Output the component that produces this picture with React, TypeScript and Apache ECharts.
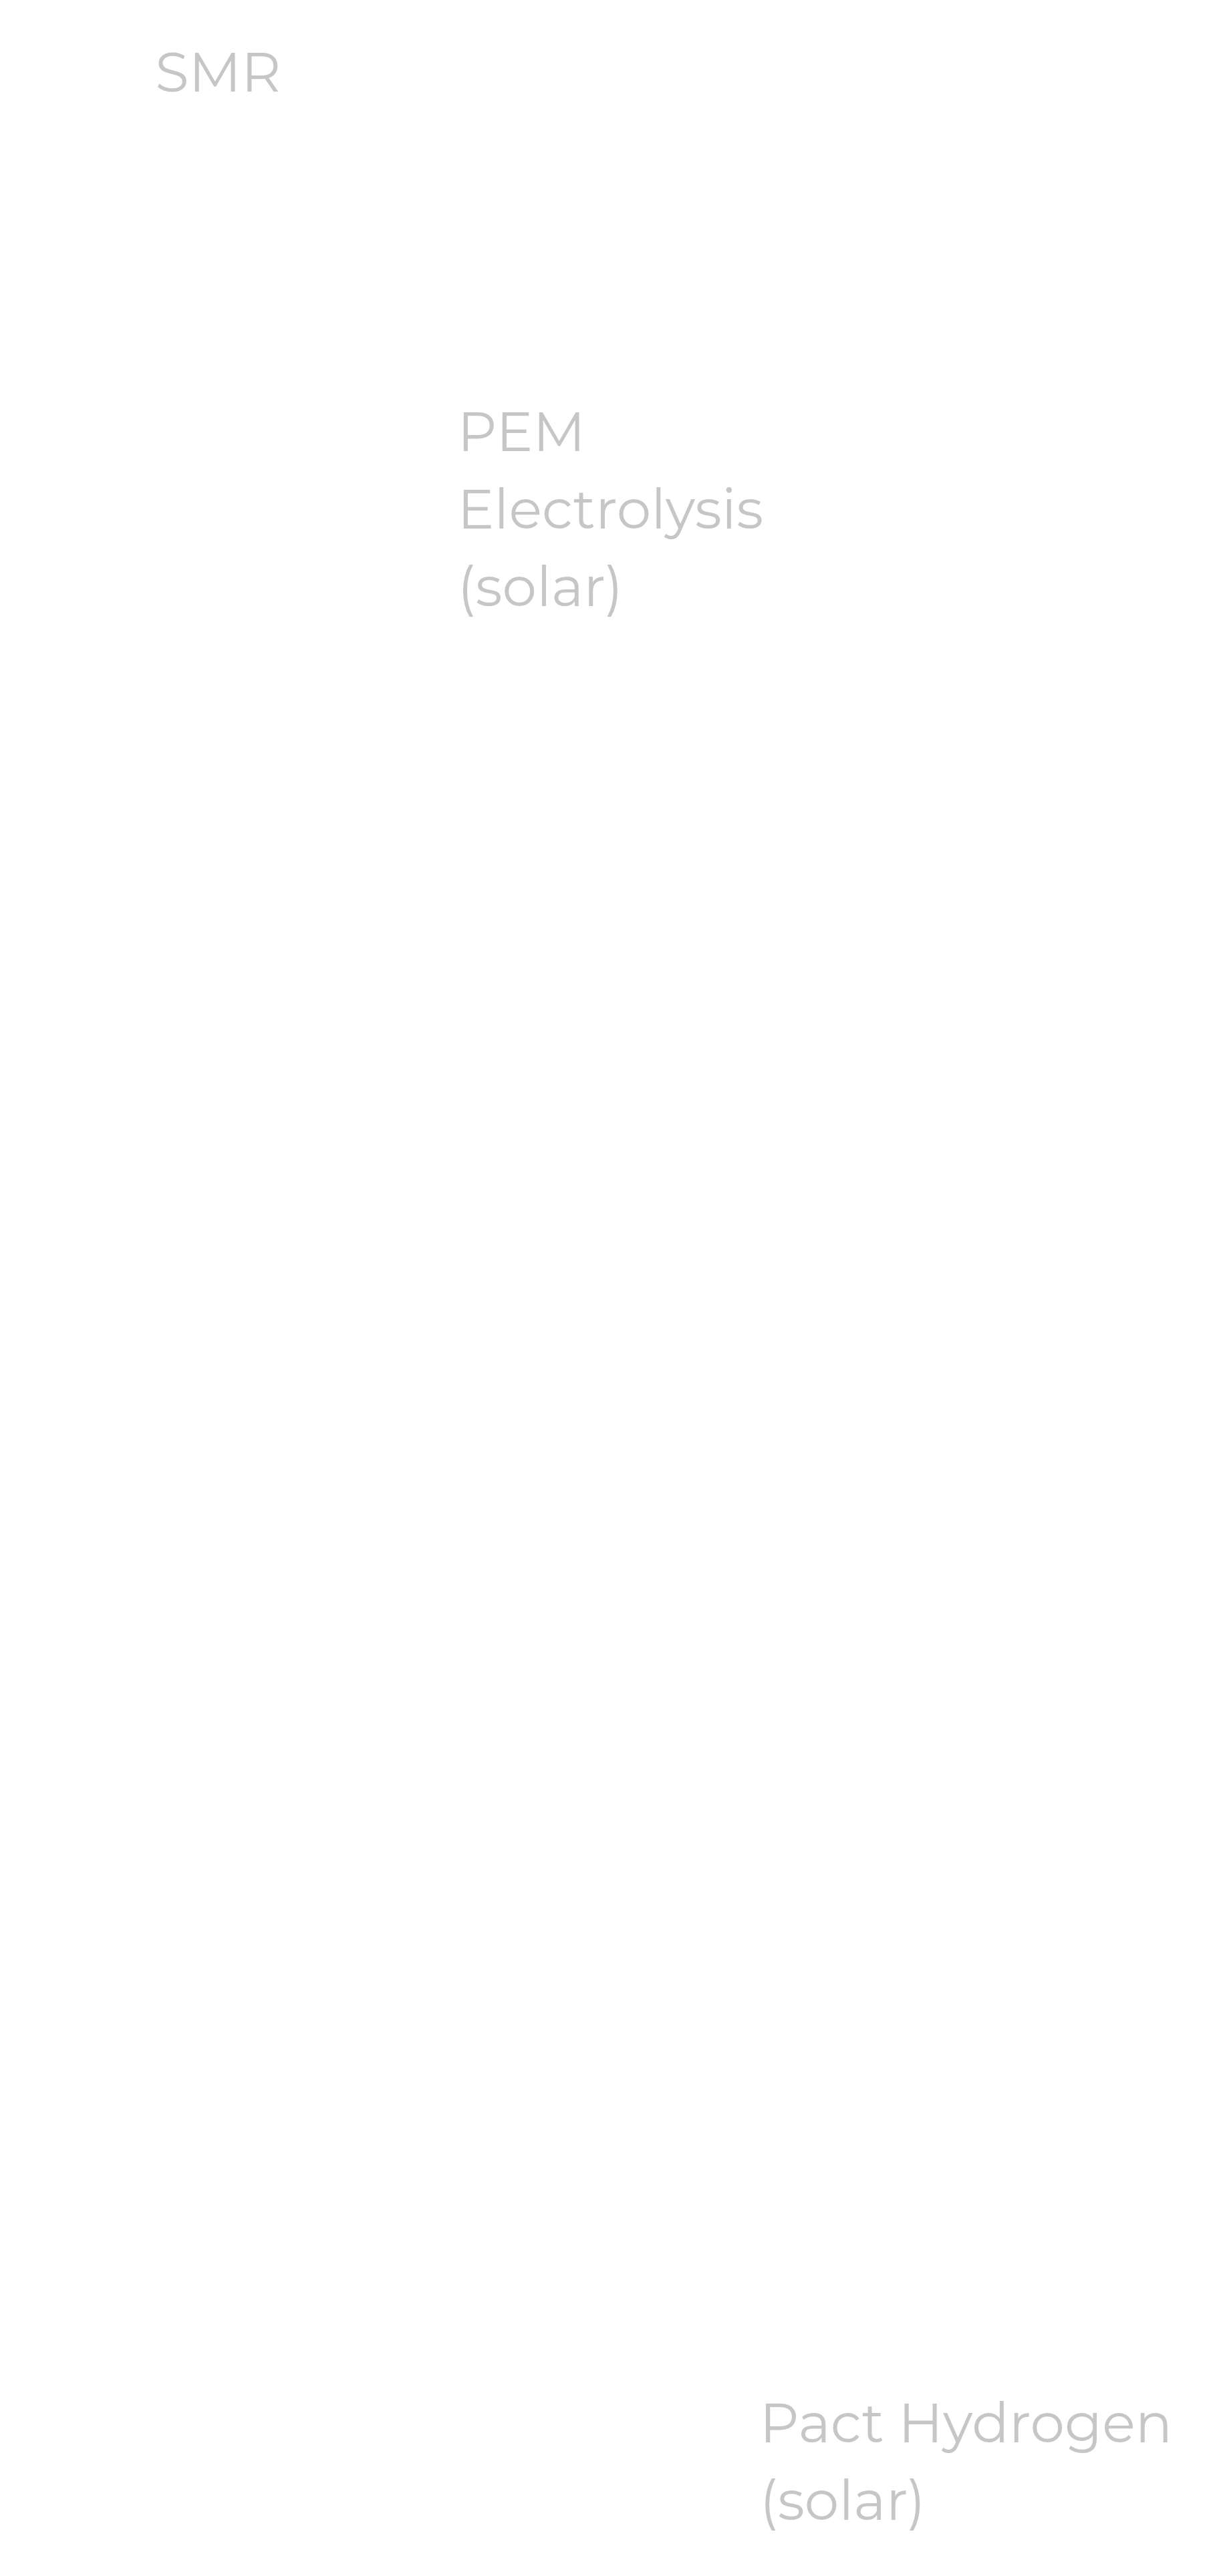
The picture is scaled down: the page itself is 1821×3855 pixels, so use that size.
import React, { useEffect, useRef } from "react";
import * as echarts from "echarts";

// kg CO2e per kg H2 (estimated from the label heights)
const categories = ["SMR", "PEM\nElectrolysis\n(solar)", "Pact Hydrogen\n(solar)"];
const values = [11.0, 8.7, 0.15];

const labelColor = "#c6c6c6";

const App: React.FC = () => {
  const chartRef = useRef<HTMLDivElement>(null);

  useEffect(() => {
    if (!chartRef.current) return;
    const chart = echarts.init(chartRef.current, undefined, { renderer: "svg" });

    const option = {
      animation: false,
      grid: { left: 6, width: 1357, top: 171, bottom: 0, containLabel: false },
      xAxis: {
        type: "category",
        data: categories,
        show: false,
      },
      yAxis: {
        type: "value",
        min: 0,
        max: values[0],
        show: false,
      },
      series: [
        {
          type: "bar",
          data: values,
          barWidth: 200,
          itemStyle: { color: "#ffffff" },
          label: {
            show: true,
            position: "top",
            distance: 5,
            align: "left",
            formatter: (p: any) => p.name,
            color: labelColor,
            fontFamily: "Montserrat, 'Open Sans', sans-serif",
            fontSize: 82,
            lineHeight: 116,
          },
        },
      ],
    };

    chart.setOption(option);
    const observer = new ResizeObserver(() => chart.resize());
    observer.observe(chartRef.current);

    return () => {
      observer.disconnect();
      chart.dispose();
    };
  }, []);

  return (
    <div
      ref={chartRef}
      style={{ position: "absolute", left: 0, top: 0, width: 1821, height: 3855, background: "#ffffff" }}
    />
  );
};

export default App;
